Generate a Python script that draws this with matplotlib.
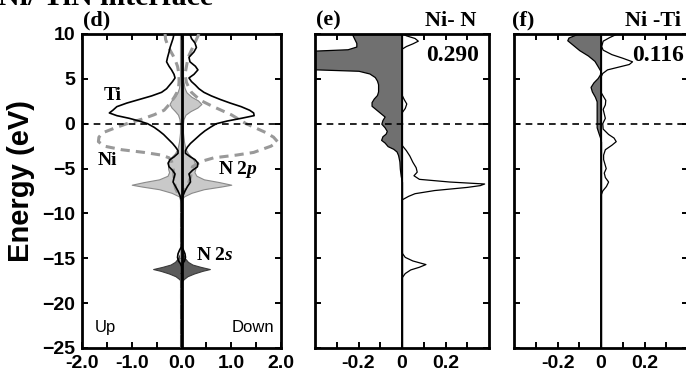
import matplotlib
matplotlib.use("Agg")
import matplotlib.pyplot as plt
from matplotlib.ticker import MultipleLocator, FixedLocator, FixedFormatter

plt.rcParams['mathtext.fontset'] = 'custom'
plt.rcParams['mathtext.it'] = 'Liberation Serif:italic:bold'
plt.rcParams['mathtext.rm'] = 'Liberation Serif:bold'

# ---------------- Panel (d): projected DOS, spin up (left) / down (right)
E_ti = [10, 9.5, 9.0, 8.5, 8.0, 7.4, 6.9, 6.4, 6.0, 5.5, 5.1, 4.7, 4.3, 3.9, 3.5,
        3.1, 2.7, 2.3, 1.9, 1.5, 1.2, 0.9, 0.6, 0.3, 0.0, -0.4, -0.8, -1.2, -1.7,
        -2.2, -2.6, -3.0, -3.3, -3.7, -4.0, -4.4, -4.8, -5.2, -5.6, -6.0, -6.5,
        -7.0, -7.5, -8.0, -8.4, -9.0, -13.7, -14.1, -14.5, -14.9, -15.3, -15.6,
        -16.0, -25]
ti_up = [0.15, 0.17, 0.2, 0.23, 0.25, 0.28, 0.3, 0.25, 0.2, 0.15, 0.13, 0.18, 0.24,
         0.3, 0.4, 0.6, 0.85, 1.1, 1.3, 1.38, 1.45, 1.3, 1.05, 0.85, 0.68, 0.55,
         0.45, 0.36, 0.27, 0.18, 0.12, 0.07, 0.07, 0.15, 0.23, 0.27, 0.25, 0.18,
         0.13, 0.15, 0.17, 0.12, 0.07, 0.03, 0.01, 0, 0, 0.04, 0.07, 0.08, 0.06,
         0.02, 0, 0]
ti_dn = [0.17, 0.2, 0.27, 0.3, 0.25, 0.15, 0.17, 0.28, 0.33, 0.25, 0.15, 0.2, 0.28,
         0.35, 0.45, 0.6, 0.78, 0.98, 1.2, 1.37, 1.45, 1.46, 1.2, 0.92, 0.7, 0.58,
         0.47, 0.38, 0.28, 0.18, 0.12, 0.08, 0.08, 0.18, 0.27, 0.33, 0.32, 0.22,
         0.15, 0.17, 0.18, 0.12, 0.07, 0.03, 0.01, 0, 0, 0.04, 0.07, 0.08, 0.06,
         0.02, 0, 0]

E_ni = [10, 9.4, 8.8, 8.2, 7.6, 7.0, 6.4, 5.8, 5.2, 4.6, 4.0, 3.5, 3.0, 2.5, 2.0,
        1.5, 1.0, 0.5, 0.0, -0.5, -1.0, -1.5, -2.0, -2.5, -2.9, -3.2, -3.5, -3.8,
        -4.2, -4.8, -5.4, -6.0, -6.6, -7.2, -7.7, -8.1, -8.5, -25]
ni_up = [0.33, 0.32, 0.28, 0.23, 0.17, 0.12, 0.08, 0.06, 0.05, 0.05, 0.06, 0.09,
         0.14, 0.2, 0.27, 0.35, 0.55, 0.8, 1.1, 1.35, 1.58, 1.66, 1.67, 1.55, 1.2,
         0.75, 0.4, 0.25, 0.2, 0.17, 0.16, 0.15, 0.14, 0.12, 0.08, 0.03, 0, 0]
ni_dn = [0.35, 0.3, 0.25, 0.2, 0.15, 0.12, 0.1, 0.08, 0.08, 0.1, 0.15, 0.2, 0.3,
         0.42, 0.6, 0.8, 1.0, 1.15, 1.3, 1.5, 1.7, 1.85, 1.93, 1.8, 1.6, 1.45,
         1.1, 0.65, 0.4, 0.22, 0.2, 0.18, 0.14, 0.08, 0.04, 0.01, 0, 0]

E_n = [10, 8, 6, 5, 4, 3.5, 3.0, 2.6, 2.2, 1.8, 1.4, 1.0, 0.5, 0, -1, -2, -2.8,
       -3.3, -3.7, -4.1, -4.6, -5.0, -5.4, -5.8, -6.2, -6.5, -6.8, -7.0, -7.3,
       -7.7, -8.1, -8.5, -25]
n_up = [0.03, 0.03, 0.03, 0.03, 0.05, 0.08, 0.13, 0.2, 0.24, 0.2, 0.13, 0.07, 0.04,
        0.03, 0.03, 0.05, 0.08, 0.13, 0.2, 0.25, 0.27, 0.27, 0.25, 0.28, 0.45,
        0.75, 1.0, 0.8, 0.45, 0.2, 0.05, 0, 0]
n_dn = [0.03, 0.03, 0.03, 0.03, 0.06, 0.1, 0.2, 0.33, 0.4, 0.32, 0.18, 0.08, 0.04,
        0.03, 0.03, 0.05, 0.08, 0.13, 0.2, 0.25, 0.28, 0.28, 0.26, 0.3, 0.45,
        0.75, 1.0, 0.8, 0.45, 0.2, 0.05, 0, 0]

E_s = [-13.8, -14.5, -15.0, -15.4, -15.7, -15.95, -16.2, -16.4, -16.7, -17.0,
       -17.3, -17.6, -18]
s_up = [0, 0.03, 0.07, 0.13, 0.22, 0.38, 0.57, 0.42, 0.25, 0.12, 0.05, 0, 0]
s_dn = [0, 0.03, 0.07, 0.13, 0.22, 0.38, 0.57, 0.42, 0.25, 0.12, 0.05, 0, 0]

# ---------------- Panel (e): Ni-N
E_e_neg = [10, 9.5, 9.0, 8.6, 8.3, 8.1, 7.9, 7.0, 6.3, 6.1, 5.9, 5.6, 5.2, 4.8,
           4.4, 4.0, 3.6, 3.2, 2.8, 2.4, 2.0, 1.6, 1.2, 0.8, 0.4, 0.0, -0.4, -0.8,
           -1.1, -1.4, -1.8, -2.1, -2.5, -2.8, -3.1, -3.5, -4.2, -5.0, -5.8, -6.5,
           -25]
e_neg = [-0.23, -0.22, -0.21, -0.21, -0.25, -0.45, -0.7, -0.75, -0.7, -0.45, -0.2,
         -0.15, -0.125, -0.115, -0.11, -0.11, -0.11, -0.115, -0.13, -0.14, -0.14,
         -0.12, -0.1, -0.08, -0.09, -0.095, -0.08, -0.07, -0.075, -0.09, -0.096,
         -0.08, -0.066, -0.04, -0.025, -0.018, -0.012, -0.01, -0.006, 0, 0]
E_e_pos = [10, 9.8, 9.5, 9.2, 8.9, 8.6, 8.3, 3.2, 2.7, 2.2, 1.7, 1.2, -2.4, -3.0,
           -3.6, -4.3, -4.9, -5.4, -5.8, -6.2, -6.5, -6.72, -6.9, -7.1, -7.45,
           -7.8, -8.1, -8.5, -14.4, -14.9, -15.3, -15.7, -16.0, -16.3, -16.7,
           -17.2, -25]
e_pos = [0.005, 0.02, 0.06, 0.075, 0.05, 0.02, 0, 0, 0.01, 0.022, 0.015, 0, 0,
         0.02, 0.036, 0.05, 0.065, 0.07, 0.055, 0.08, 0.22, 0.38, 0.36, 0.3, 0.15,
         0.06, 0.03, 0, 0, 0.015, 0.05, 0.11, 0.08, 0.04, 0.015, 0, 0]

# ---------------- Panel (f): Ni-Ti
E_f_neg = [10, 9.6, 9.3, 8.8, 8.2, 7.6, 7.0, 6.4, 5.9, 5.5, 5.1, 4.6, 4.1, 3.6,
           3.0, 2.5, 1.8, 1.0, 0.3, -0.4, -1.0, -1.5, -2.0, -25]
f_neg = [-0.11, -0.15, -0.155, -0.13, -0.1, -0.06, -0.03, -0.015, -0.003, -0.005,
         -0.015, -0.035, -0.048, -0.042, -0.028, -0.02, -0.02, -0.02, -0.02,
         -0.02, -0.012, -0.005, 0, 0]
E_f_pos = [10, 9.6, 9.2, 8.6, 8.2, 7.7, 7.3, 6.9, 6.6, 6.3, 6.0, 5.6, 5.2, 3.5,
           3.0, 2.6, 2.1, 1.6, 1.1, 0.6, 0.0, -0.6, -1.2, -1.6, -2.0, -2.4, -2.9,
           -3.5, -4.0, -4.5, -5.0, -5.5, -6.0, -6.5, -7.0, -7.5, -8.0, -25]
f_pos = [0.075, 0.04, 0.01, 0.003, 0.01, 0.05, 0.1, 0.145, 0.13, 0.08, 0.03,
         0.008, 0, 0, 0.012, 0.022, 0.02, 0.01, 0.015, 0.02, 0.008, 0.01, 0.035,
         0.06, 0.07, 0.05, 0.02, 0.012, 0.012, 0.018, 0.024, 0.015, 0.02, 0.035,
         0.025, 0.008, 0, 0]

d_xticks = [-2, -1, 0, 1, 2]
d_xticklabels = ["-2.0", "-1.0", "0.0", "1.0", "2.0"]
ef_xticks = [-0.2, 0, 0.2]
ef_xticklabels = ["-0.2", "0", "0.2"]
yticks = [10, 5, 0, -5, -10, -15, -20, -25]

W, H = 686, 373
fig = plt.figure(figsize=(W / 100, H / 100), dpi=100)

def px_axes(x0, x1, y0, y1):
    return fig.add_axes([x0 / W, 1 - y1 / H, (x1 - x0) / W, (y1 - y0) / H])

SANS = 'Liberation Sans'
SERIF = 'Liberation Serif'

def style(ax):
    for s in ax.spines.values():
        s.set_linewidth(2)
    ax.tick_params(which='both', direction='in', top=True, right=True,
                   length=4.5, width=1.4, pad=5)
    ax.set_ylim(-25, 10)
    ax.yaxis.set_major_locator(FixedLocator(yticks))
    for lab in ax.get_xticklabels() + ax.get_yticklabels():
        lab.set_fontfamily(SANS)
        lab.set_fontweight('bold')
        lab.set_fontsize(14)

axd = px_axes(82, 281, 34, 348)
axe = px_axes(315, 489, 34, 348)
axf = px_axes(514, 688, 34, 348)

# ---- (d)
neg = lambda v: [-x for x in v]
axd.fill_betweenx(E_n, neg(n_up), n_dn, facecolor='#c9c9c9', edgecolor='#8a8a8a',
                  linewidth=0.8, zorder=1)
axd.fill_betweenx(E_s, neg(s_up), s_dn, facecolor='#5c5c5c', edgecolor='#3a3a3a',
                  linewidth=0.8, zorder=2)
axd.plot(neg(ni_up), E_ni, color='#999999', lw=2.2, dashes=(3, 2), zorder=3)
axd.plot(ni_dn, E_ni, color='#999999', lw=2.2, dashes=(3, 2), zorder=3)
axd.plot(neg(ti_up), E_ti, color='black', lw=1.2, zorder=4)
axd.plot(ti_dn, E_ti, color='black', lw=1.2, zorder=4)
axd.axvline(0, color='black', lw=2, zorder=5)
axd.axhline(0, color='black', lw=1.2, dashes=(4, 3), zorder=5)
axd.set_xlim(-2, 2)
axd.xaxis.set_major_locator(FixedLocator(d_xticks))
axd.xaxis.set_major_formatter(FixedFormatter(d_xticklabels))
axd.xaxis.set_minor_locator(MultipleLocator(0.5))
style(axd)

tfont = dict(family=SERIF, weight='bold', fontsize=14)
axd.text(-1.38, 3.1, "Ti", ha='center', va='center', **tfont)
axd.text(-1.48, -4.1, "Ni", ha='center', va='center', **tfont)
axd.text(1.14, -5.1, r"N 2$\mathit{p}$", ha='center', va='center', **tfont)
axd.text(0.68, -14.7, r"N 2$\mathit{s}$", ha='center', va='center', **tfont)
axd.text(-1.74, -22.7, "Up", ha='left', va='center', family=SANS, fontsize=12)
axd.text(1.87, -22.7, "Down", ha='right', va='center', family=SANS, fontsize=12)

# ---- (e) and (f)
for ax, En, vn, Ep, vp in [(axe, E_e_neg, e_neg, E_e_pos, e_pos),
                           (axf, E_f_neg, f_neg, E_f_pos, f_pos)]:
    ax.fill_betweenx(En, vn, 0, facecolor='#707070', edgecolor='black',
                     linewidth=0.9, zorder=2)
    ax.plot(vp, Ep, color='black', lw=0.9, zorder=3)
    ax.axvline(0, color='black', lw=1.3, zorder=4)
    ax.axhline(0, color='black', lw=1.2, dashes=(4, 3), zorder=5)
    ax.set_xlim(-0.4, 0.4)
    ax.xaxis.set_major_locator(FixedLocator(ef_xticks))
    ax.xaxis.set_major_formatter(FixedFormatter(ef_xticklabels))
    ax.xaxis.set_minor_locator(FixedLocator([-0.3, -0.1, 0.1, 0.3]))
    style(ax)
    ax.set_yticklabels([])

# ---- labels and titles
def ftext(xp, yp, s, **kw):
    fig.text(xp / W, 1 - yp / H, s, **kw)

ftext(21, 181, "Energy (eV)", rotation=90, ha='center', va='center',
      family=SANS, weight='bold', fontsize=21)
ftext(-2, 5, "Ni/ TiN interface", ha='left', va='baseline', family=SERIF,
      weight='bold', fontsize=21.5)
hfont = dict(family=SERIF, weight='bold', fontsize=16, va='baseline')
ftext(83, 25, "(d)", ha='left', **hfont)
ftext(316, 25, "(e)", ha='left', **hfont)
ftext(512, 25, "(f)", ha='left', **hfont)
ftext(476, 26, "Ni- N", ha='right', **hfont)
ftext(681, 26, "Ni -Ti", ha='right', **hfont)
ftext(479, 61, "0.290", ha='right', family=SERIF, weight='bold', fontsize=17,
      va='baseline')
ftext(632, 61, "0.116", ha='left', family=SERIF, weight='bold', fontsize=17,
      va='baseline')

fig.savefig("out.png", dpi=100)
